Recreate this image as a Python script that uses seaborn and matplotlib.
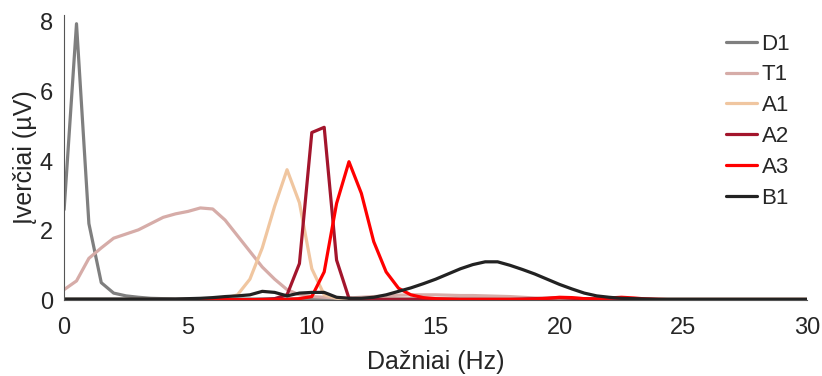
import matplotlib
matplotlib.use("Agg")
import matplotlib.pyplot as plt
import numpy as np
import pandas as pd
import seaborn as sns

# Frequency grid (Hz), 0.5 Hz steps
freqs = np.arange(0, 30.5, 0.5)

# Series values (µV), 61 points each
d1 = [2.6, 7.95, 2.2, 0.5, 0.2, 0.12, 0.08, 0.05, 0.04, 0.03,
      0.03, 0.03, 0.03, 0.03, 0.03, 0.03, 0.03, 0.03, 0.03, 0.03,
      0.03, 0.03, 0.03, 0.03, 0.03, 0.03, 0.03, 0.03, 0.03, 0.03,
      0.03, 0.03, 0.03, 0.03, 0.03, 0.03, 0.03, 0.03, 0.03, 0.03,
      0.03, 0.03, 0.03, 0.03, 0.03, 0.03, 0.03, 0.03, 0.03, 0.03,
      0.03, 0.03, 0.03, 0.03, 0.03, 0.03, 0.03, 0.03, 0.03, 0.03, 0.03]
t1 = [0.3, 0.55, 1.2, 1.5, 1.78, 1.9, 2.02, 2.2, 2.38, 2.48,
      2.55, 2.65, 2.62, 2.3, 1.85, 1.4, 0.95, 0.6, 0.3, 0.15,
      0.1, 0.08, 0.06, 0.06, 0.08, 0.1, 0.12, 0.14, 0.15, 0.15,
      0.15, 0.14, 0.13, 0.13, 0.12, 0.11, 0.1, 0.08, 0.06, 0.05,
      0.05, 0.04, 0.04, 0.03, 0.03, 0.03, 0.03, 0.02, 0.02, 0.02,
      0.02, 0.02, 0.02, 0.02, 0.02, 0.02, 0.02, 0.02, 0.02, 0.02, 0.02]
a1 = [0.02, 0.02, 0.02, 0.02, 0.02, 0.02, 0.02, 0.02, 0.02, 0.02,
      0.02, 0.02, 0.03, 0.05, 0.15, 0.6, 1.5, 2.7, 3.75, 2.8,
      0.9, 0.15, 0.05, 0.03, 0.02, 0.02, 0.02, 0.02, 0.02, 0.02,
      0.02, 0.02, 0.02, 0.02, 0.02, 0.02, 0.02, 0.02, 0.02, 0.02,
      0.02, 0.02, 0.02, 0.02, 0.02, 0.02, 0.02, 0.02, 0.02, 0.02,
      0.02, 0.02, 0.02, 0.02, 0.02, 0.02, 0.02, 0.02, 0.02, 0.02, 0.02]
a2 = [0.01, 0.01, 0.01, 0.01, 0.01, 0.01, 0.01, 0.01, 0.01, 0.01,
      0.01, 0.01, 0.01, 0.01, 0.01, 0.01, 0.02, 0.04, 0.15, 1.05,
      4.82, 4.97, 1.15, 0.05, 0.02, 0.02, 0.02, 0.02, 0.02, 0.02,
      0.02, 0.02, 0.02, 0.02, 0.02, 0.02, 0.02, 0.03, 0.04, 0.05,
      0.06, 0.05, 0.04, 0.03, 0.02, 0.02, 0.02, 0.02, 0.01, 0.01,
      0.01, 0.01, 0.01, 0.01, 0.01, 0.01, 0.01, 0.01, 0.01, 0.01, 0.01]
a3 = [0.01, 0.01, 0.01, 0.01, 0.01, 0.01, 0.01, 0.01, 0.01, 0.01,
      0.01, 0.01, 0.01, 0.01, 0.01, 0.01, 0.01, 0.01, 0.02, 0.04,
      0.1, 0.81, 2.78, 3.98, 3.07, 1.68, 0.81, 0.34, 0.15, 0.07,
      0.04, 0.03, 0.02, 0.02, 0.02, 0.02, 0.02, 0.02, 0.03, 0.05,
      0.08, 0.07, 0.04, 0.03, 0.06, 0.08, 0.06, 0.03, 0.02, 0.01,
      0.01, 0.01, 0.01, 0.01, 0.01, 0.01, 0.01, 0.01, 0.01, 0.01, 0.01]
b1 = [0.03, 0.03, 0.03, 0.03, 0.03, 0.03, 0.03, 0.03, 0.03, 0.03,
      0.04, 0.05, 0.07, 0.1, 0.12, 0.15, 0.25, 0.22, 0.12, 0.2,
      0.22, 0.22, 0.08, 0.05, 0.05, 0.08, 0.15, 0.25, 0.35, 0.47,
      0.6, 0.75, 0.9, 1.02, 1.1, 1.1, 1.0, 0.88, 0.75, 0.6,
      0.45, 0.32, 0.2, 0.12, 0.08, 0.05, 0.04, 0.03, 0.02, 0.02,
      0.02, 0.02, 0.02, 0.02, 0.02, 0.02, 0.02, 0.02, 0.02, 0.02, 0.02]

series_names = ["D1", "T1", "A1", "A2", "A3", "B1"]
series_values = [d1, t1, a1, a2, a3, b1]
series_colors = ["#7f7f7f", "#d6aca8", "#f0c6a0", "#a3152c", "#ff0000", "#222222"]

df = pd.concat(
    [pd.DataFrame({"freq": freqs, "value": v, "series": n})
     for n, v in zip(series_names, series_values)],
    ignore_index=True,
)

sns.set_style("white")
plt.rcParams["font.family"] = ["Liberation Sans", "DejaVu Sans"]

fig = plt.figure(figsize=(8.22, 3.76), dpi=100)
ax = fig.add_axes([0.078, 0.202, 0.904, 0.758])

sns.lineplot(
    data=df, x="freq", y="value", hue="series",
    hue_order=series_names, palette=series_colors,
    linewidth=2.3, ax=ax,
)

ax.set_xlim(0, 30)
ax.set_ylim(0, 8.2)
ax.set_xticks([0, 5, 10, 15, 20, 25, 30])
ax.set_yticks([0, 2, 4, 6, 8])
ax.tick_params(direction="in", length=4, color="#555555", labelsize=17,
               labelcolor="#262626")
ax.tick_params(axis="x", pad=12)
ax.tick_params(axis="y", pad=8)
for side in ["top", "right"]:
    ax.spines[side].set_visible(False)
for side in ["left", "bottom"]:
    ax.spines[side].set_color("#555555")
    ax.spines[side].set_linewidth(0.8)

ax.set_xlabel("Dažniai (Hz)", fontsize=18, color="#262626", labelpad=8)
ax.set_ylabel("Įverčiai (µV)", fontsize=18, color="#262626", labelpad=2)

ax.legend(
    loc="upper right", frameon=False, fontsize=16, handlelength=1.4,
    handletextpad=0.2, labelspacing=0.44, borderaxespad=0.0,
    bbox_to_anchor=(0.989, 0.966),
)

fig.savefig("out.png", dpi=100)
